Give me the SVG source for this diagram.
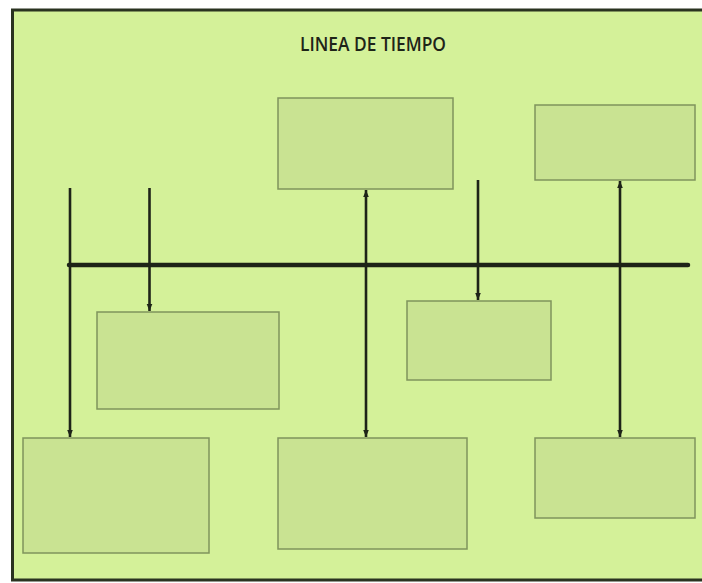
<svg xmlns="http://www.w3.org/2000/svg" width="702" height="583" viewBox="0 0 702 583">
<defs>
<marker id="ah" viewBox="0 0 10 10" refX="10" refY="5" markerWidth="7" markerHeight="7" markerUnits="userSpaceOnUse" orient="auto-start-reverse">
<path d="M0,1 L10,5 L0,9 z" fill="#1e2418"/>
</marker>
<style>
.box{fill:#c9e392;stroke:#7f945c;stroke-width:1.5}
.v{stroke:#1e2418;stroke-width:2.6;fill:none}
.title{font-family:"Open Sans","Noto Sans","Liberation Sans",sans-serif;font-size:19px;font-weight:600;fill:#1e2418}
</style>
</defs>
<rect x="0" y="0" width="702" height="583" fill="#ffffff"/>
<rect id="frame" x="12.5" y="10" width="695" height="570" fill="#d4f199" stroke="#2a3320" stroke-width="3"/>
<text class="title" x="373" y="51" text-anchor="middle" textLength="146" lengthAdjust="spacingAndGlyphs">LINEA DE TIEMPO</text>
<g id="node-top-middle"><rect class="box" x="278" y="98" width="175" height="91"/></g>
<g id="node-top-right"><rect class="box" x="535" y="105" width="160" height="75"/></g>
<g id="node-mid-left"><rect class="box" x="97" y="312" width="182" height="97"/></g>
<g id="node-mid-right"><rect class="box" x="407" y="301" width="144" height="79"/></g>
<g id="node-bottom-left"><rect class="box" x="23" y="438" width="186" height="115"/></g>
<g id="node-bottom-middle"><rect class="box" x="278" y="438" width="189" height="111"/></g>
<g id="node-bottom-right"><rect class="box" x="535" y="438" width="160" height="80"/></g>
<g id="connectors">
<line x1="69" y1="265" x2="688" y2="265" stroke="#1e2418" stroke-width="4.5" stroke-linecap="round"/>
<line class="v" x1="70" y1="188" x2="70" y2="437" marker-end="url(#ah)"/>
<line class="v" x1="149.5" y1="188" x2="149.5" y2="311" marker-end="url(#ah)"/>
<line class="v" x1="366" y1="190" x2="366" y2="437" marker-start="url(#ah)" marker-end="url(#ah)"/>
<line class="v" x1="478" y1="180" x2="478" y2="300" marker-end="url(#ah)"/>
<line class="v" x1="620" y1="181" x2="620" y2="437" marker-start="url(#ah)" marker-end="url(#ah)"/>
</g>
</svg>
